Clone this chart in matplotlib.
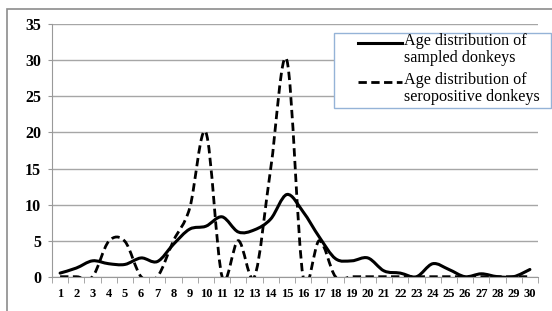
import matplotlib.pyplot as plt
from matplotlib.path import Path
from matplotlib.patches import PathPatch, Rectangle
from matplotlib.lines import Line2D

ages = list(range(1, 31))
sampled = [0.5, 1.2, 2.2, 1.8, 1.7, 2.6, 2.1, 4.5, 6.6, 7.0,
           8.3, 6.2, 6.5, 8.0, 11.4, 9.0, 5.5, 2.5, 2.2, 2.6,
           0.8, 0.5, 0, 1.8, 1.0, 0, 0.4, 0, 0, 1.0]
seropos = [0, 0, 0, 4.9, 4.9, 0, 0, 5, 9.5, 20,
           0, 5, 0, 15, 30, 0, 5, 0, 0, 0,
           0, 0, 0, 0, 0, 0, 0, 0, 0, 0]
yticks = [0, 5, 10, 15, 20, 25, 30, 35]
labels = ['Age distribution of\nsampled donkeys', 'Age distribution of\nseropositive donkeys']

plt.rcParams['font.family'] = ['Liberation Serif', 'DejaVu Serif']
dash = (0, (3, 1.6))


# excel style smoothed line (catmull-rom as bezier)
def smooth_path(xs, ys):
    verts = [(xs[0], ys[0])]
    codes = [Path.MOVETO]
    n = len(xs)
    for i in range(n - 1):
        x0, y0 = (xs[i - 1], ys[i - 1]) if i > 0 else (xs[i], ys[i])
        x1, y1 = xs[i], ys[i]
        x2, y2 = xs[i + 1], ys[i + 1]
        x3, y3 = (xs[i + 2], ys[i + 2]) if i + 2 < n else (x2, y2)
        verts += [(x1 + (x2 - x0) / 6, y1 + (y2 - y0) / 6),
                  (x2 - (x3 - x1) / 6, y2 - (y3 - y1) / 6),
                  (x2, y2)]
        codes += [Path.CURVE4] * 3
    return Path(verts, codes)


W, H = 552, 311
fig = plt.figure(figsize=(W / 100, H / 100), dpi=100)
fig.patches.append(Rectangle((7 / W, -0.05), 1.1, 1 - 9 / H + 0.05, transform=fig.transFigure,
                             fill=False, edgecolor='#8c8c8c', lw=1.2))
ax = fig.add_axes([52 / W, 1 - 276.7 / H, 486 / W, (276.7 - 24.3) / H])

ax.add_patch(PathPatch(smooth_path(ages, sampled), fill=False, color='black', lw=2.2, capstyle='round'))
ax.add_patch(PathPatch(smooth_path(ages, seropos), fill=False, color='black', lw=2.0, linestyle=dash))

ax.set_xlim(0.5, 30.5)
ax.set_ylim(0, 35)
ax.set_yticks(yticks)
ax.set_yticklabels([str(v) for v in yticks], fontweight='bold', fontsize=11.5)
ax.set_xticks(ages)
ax.set_xticklabels([str(a) for a in ages], fontweight='bold', fontsize=9)
ax.set_xticks([a + 0.5 for a in [0] + ages], minor=True)
ax.tick_params(axis='x', which='major', length=0, pad=8)
ax.tick_params(axis='x', which='minor', length=4, color='#999999')
ax.tick_params(axis='y', length=3, color='#999999', pad=5)
ax.grid(axis='y', color='#a6a6a6', lw=1)
ax.set_axisbelow(True)
for s in ['top', 'right']:
    ax.spines[s].set_visible(False)
for s in ['left', 'bottom']:
    ax.spines[s].set_color('#999999')

# legend box drawn by hand, like the excel one
fig.patches.append(Rectangle((334 / W, 1 - 108 / H), (551 - 334) / W, 75 / H, transform=fig.transFigure,
                             facecolor='white', edgecolor='#95b3d7', lw=1, zorder=5))
styles = [dict(lw=2.2), dict(lw=2.0, linestyle=dash)]
for i, lab in enumerate(labels):
    ytop = 43 + i * 39
    fig.lines.append(Line2D([358 / W, 402 / W], [1 - ytop / H] * 2, transform=fig.transFigure,
                            color='black', zorder=6, **styles[i]))
    fig.text(404 / W, 1 - (ytop - 10) / H, lab, fontsize=11.6, va='top', ha='left',
             linespacing=1.05, zorder=6)

fig.savefig('out.png', dpi=100)
